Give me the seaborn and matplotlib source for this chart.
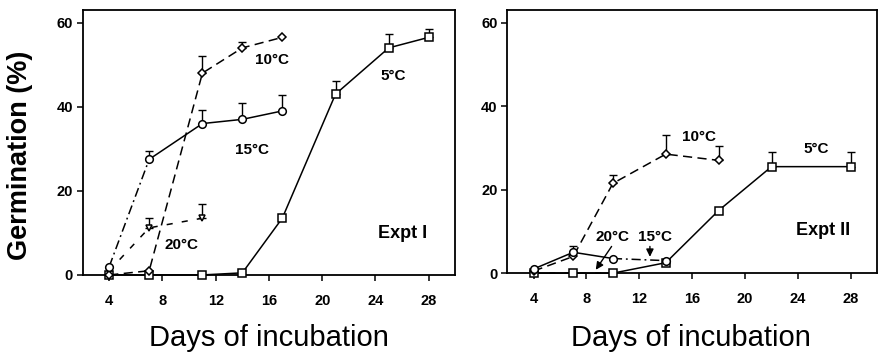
import matplotlib
matplotlib.use("Agg")
import matplotlib.pyplot as plt
import seaborn as sns
import numpy as np

# ---- Experiment I ----
days_5_I = [4, 7, 11, 14, 17, 21, 25, 28]
germ_5_I = [0, 0, 0, 0.5, 13.5, 43, 54, 56.5]
err_5_I = [0, 0, 0, 0, 0, 3.2, 3.3, 2.1]

days_10_I = [4, 7, 11, 14, 17]
germ_10_I = [0, 1, 48, 54, 56.5]
err_10_I = [0, 0, 4, 1.4, 0]

days_15_I = [4, 7, 11, 14, 17]
germ_15_I = [2, 27.5, 36, 37, 39]
err_15_I = [0, 1.9, 3.3, 4, 3.8]

days_20_I = [4, 7, 11]
germ_20_I = [1, 11.2, 13.5]
err_20_I = [0, 2.4, 3.4]

# ---- Experiment II ----
days_5_II = [4, 7, 10, 14, 18, 22, 28]
germ_5_II = [0, 0, 0, 2.5, 15, 25.5, 25.5]
err_5_II = [0, 0, 0, 0, 0, 3.4, 3.4]

days_10_II = [4, 7, 10, 14, 18]
germ_10_II = [0.5, 4, 21.5, 28.5, 27]
err_10_II = [0, 0, 1.9, 4.6, 3.5]

days_15_II = [4, 7, 10, 14]
germ_15_II = [1, 5, 3.5, 3]
err_15_II = [0, 1.5, 0, 0]

days_20_II = [4, 7, 10]
germ_20_II = [0, 0, 0]
err_20_II = [0, 0, 0]

x_ticks = [4, 8, 12, 16, 20, 24, 28]
y_ticks = [0, 20, 40, 60]

sns.set_style("ticks")
plt.rcParams["font.family"] = ["Liberation Sans", "DejaVu Sans"]
plt.rcParams.update({"text.color": "black", "axes.labelcolor": "black",
                     "xtick.color": "black", "ytick.color": "black",
                     "axes.edgecolor": "black"})

SOLID = "-"
DASH = (0, (6, 3.5))
SPARSE = (0, (4, 6))
DASHDOT = (0, (6, 2.5, 1.2, 2.5))

def draw_series(ax, days, vals, err, marker, ms, seg_styles):
    # group consecutive segments sharing a style into one polyline
    i = 0
    n = len(seg_styles)
    while i < n:
        j = i
        while j + 1 < n and seg_styles[j + 1] == seg_styles[i]:
            j += 1
        sns.lineplot(x=days[i:j + 2], y=vals[i:j + 2], ax=ax, color="black",
                     linewidth=1.1, linestyle=seg_styles[i], sort=False,
                     errorbar=None, clip_on=False, zorder=2)
        i = j + 1
    d = np.array(days, float)
    v = np.array(vals, float)
    e = np.array(err, float)
    m = e > 0
    if m.any():
        ax.errorbar(d[m], v[m], yerr=[np.zeros(m.sum()), e[m]], fmt="none",
                    ecolor="black", elinewidth=1.0, capsize=3.2, capthick=1.0,
                    zorder=3, clip_on=False)
    ax.plot(d, v, linestyle="none", marker=marker, markersize=ms,
            markerfacecolor="white", markeredgecolor="black",
            markeredgewidth=1.1, zorder=4, clip_on=False)

fig = plt.figure(figsize=(8.79, 3.58), dpi=100)
ax1 = fig.add_axes([0.094, 0.232, 0.424, 0.740])
ax2 = fig.add_axes([0.577, 0.237, 0.421, 0.735])

draw_series(ax1, days_5_I, germ_5_I, err_5_I, "s", 5.5, [SOLID] * 7)
draw_series(ax1, days_20_I, germ_20_I, err_20_I, "v", 5, [SPARSE] * 2)
draw_series(ax1, days_10_I, germ_10_I, err_10_I, "D", 4, [DASH] * 4)
draw_series(ax1, days_15_I, germ_15_I, err_15_I, "o", 5.5,
            [DASHDOT, SOLID, SOLID, SOLID])

draw_series(ax2, days_20_II, germ_20_II, err_20_II, "v", 5, [SPARSE] * 2)
draw_series(ax2, days_5_II, germ_5_II, err_5_II, "s", 5.5, [SOLID] * 6)
draw_series(ax2, days_10_II, germ_10_II, err_10_II, "D", 4, [DASH] * 4)
draw_series(ax2, days_15_II, germ_15_II, err_15_II, "o", 5.5,
            [SOLID, SOLID, DASHDOT])

for ax in (ax1, ax2):
    ax.set_xlim(2, 30)
    ax.set_ylim(0, 63)
    ax.set_xticks(x_ticks)
    ax.set_yticks(y_ticks)
    ax.set_xlabel("")
    ax.set_ylabel("")
    for s in ax.spines.values():
        s.set_visible(True)
        s.set_linewidth(1.3)
        s.set_color("black")
    ax.tick_params(axis="both", direction="out", length=4.5, width=1.1,
                   color="black", labelcolor="black", labelsize=10.5)
    ax.tick_params(axis="x", pad=9)
    ax.tick_params(axis="y", pad=2.5)
    for lab in ax.get_xticklabels() + ax.get_yticklabels():
        lab.set_fontweight("bold")

ann = dict(fontsize=11, fontweight="bold", ha="center", va="center",
           color="black")
ax1.text(16.2, 51, "10°C", **ann)
ax1.text(14.7, 29.6, "15°C", **ann)
ax1.text(25.3, 47.2, "5°C", **ann)
ax1.text(9.4, 7.1, "20°C", **ann)
ax1.text(26, 9.9, "Expt I", fontsize=13, fontweight="bold",
         ha="center", va="center", color="black")

ax2.text(16.5, 32.6, "10°C", **ann)
ax2.text(25.4, 29.8, "5°C", **ann)
ax2.text(10.0, 8.6, "20°C", **ann)
ax2.text(13.2, 8.6, "15°C", **ann)
ax2.text(25.9, 10.3, "Expt II", fontsize=13, fontweight="bold",
         ha="center", va="center", color="black")
arrow = dict(arrowstyle="-|>,head_length=0.45,head_width=0.22",
             color="black", lw=1.0, shrinkA=0, shrinkB=0)
ax2.annotate("", xy=(8.7, 0.8), xytext=(9.9, 6.4), arrowprops=arrow)
ax2.annotate("", xy=(12.8, 3.9), xytext=(12.8, 6.4), arrowprops=arrow)

fig.text(0.023, 0.567, "Germination (%)", rotation=90, fontsize=19.5,
         fontweight="bold", ha="center", va="center", color="black")
fig.text(0.306, 0.057, "Days of incubation", fontsize=21,
         ha="center", va="center", color="black")
fig.text(0.786, 0.057, "Days of incubation", fontsize=21,
         ha="center", va="center", color="black")

fig.savefig("out.png", dpi=100)
